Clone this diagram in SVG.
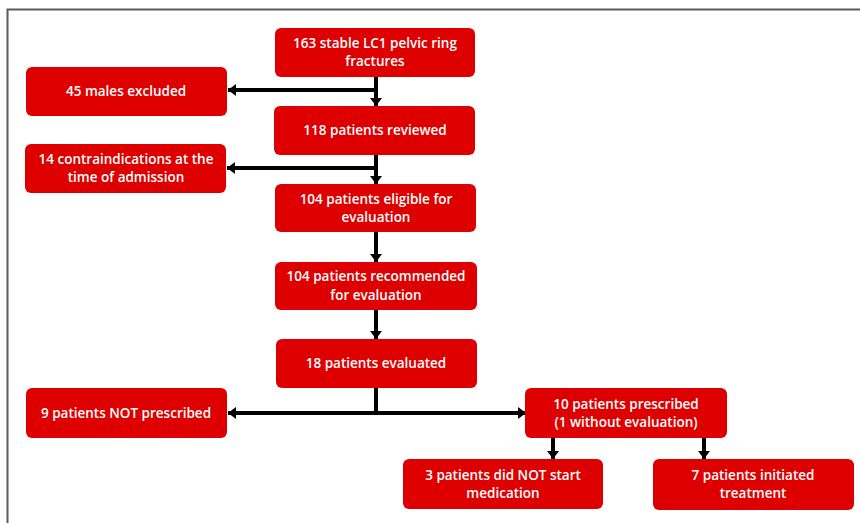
<svg xmlns="http://www.w3.org/2000/svg" width="860" height="523" viewBox="0 0 860 523">
<defs>
<style>
.box{fill:#DE0000;}
.t{font-family:"Open Sans","Liberation Sans",sans-serif;font-size:13.5px;font-weight:600;fill:#fff;text-anchor:middle;}
.c{stroke:#000;stroke-width:4;fill:none;}
</style>
<marker id="ah" markerUnits="userSpaceOnUse" markerWidth="12" markerHeight="12" viewBox="0 0 12 12" refX="8" refY="6" orient="auto">
<path d="M0,0 L8,6 L0,12 Z" fill="#000"/>
</marker>
</defs>
<rect width="860" height="523" fill="#fff"/>
<path d="M7.5,523 V9.5 H860" stroke="#5a5a5a" stroke-width="2" fill="none"/>
<g id="connectors">
<path class="c" d="M376,77 V106" marker-end="url(#ah)"/>
<path class="c" d="M376,90 H228" marker-end="url(#ah)"/>
<path class="c" d="M376,155 V184" marker-end="url(#ah)"/>
<path class="c" d="M376,168 H227" marker-end="url(#ah)"/>
<path class="c" d="M376,232 V262" marker-end="url(#ah)"/>
<path class="c" d="M376,310 V339" marker-end="url(#ah)"/>
<path class="c" d="M376,388 V414"/>
<path class="c" d="M376,413 H228" marker-end="url(#ah)"/>
<path class="c" d="M376,413 H526" marker-end="url(#ah)"/>
<path class="c" d="M553,438 V459" marker-end="url(#ah)"/>
<path class="c" d="M704,438 V459" marker-end="url(#ah)"/>
</g>
<g id="n1"><rect class="box" x="275" y="28" width="200" height="49" rx="6"/><text class="t" x="375" y="48">163 stable LC1 pelvic ring</text><text class="t" x="375" y="66">fractures</text></g>
<g id="n2"><rect class="box" x="26" y="67" width="201" height="49" rx="6"/><text class="t" x="126" y="96">45 males excluded</text></g>
<g id="n3"><rect class="box" x="274" y="106" width="201" height="49" rx="6"/><text class="t" x="375" y="135">118 patients reviewed</text></g>
<g id="n4"><rect class="box" x="25" y="144" width="201" height="49" rx="6"/><text class="t" x="126" y="164">14 contraindications at the</text><text class="t" x="126" y="182">time of admission</text></g>
<g id="n5"><rect class="box" x="275" y="184" width="201" height="48" rx="6"/><text class="t" x="376" y="204">104 patients eligible for</text><text class="t" x="376" y="222">evaluation</text></g>
<g id="n6"><rect class="box" x="275" y="262" width="202" height="48" rx="6"/><text class="t" x="376" y="281">104 patients recommended</text><text class="t" x="376" y="300">for evaluation</text></g>
<g id="n7"><rect class="box" x="276" y="339" width="201" height="49" rx="6"/><text class="t" x="376" y="368">18 patients evaluated</text></g>
<g id="n8"><rect class="box" x="26" y="388" width="201" height="50" rx="6"/><text class="t" x="126" y="418">9 patients NOT prescribed</text></g>
<g id="n9"><rect class="box" x="525" y="388" width="202" height="50" rx="6"/><text class="t" x="626" y="409">10 patients prescribed</text><text class="t" x="626" y="427">(1 without evaluation)</text></g>
<g id="n10"><rect class="box" x="403" y="459" width="200" height="50" rx="6"/><text class="t" x="503" y="480">3 patients did NOT start</text><text class="t" x="503" y="498">medication</text></g>
<g id="n11"><rect class="box" x="653" y="459" width="201" height="51" rx="6"/><text class="t" x="753" y="480">7 patients initiated</text><text class="t" x="753" y="498">treatment</text></g>
</svg>
